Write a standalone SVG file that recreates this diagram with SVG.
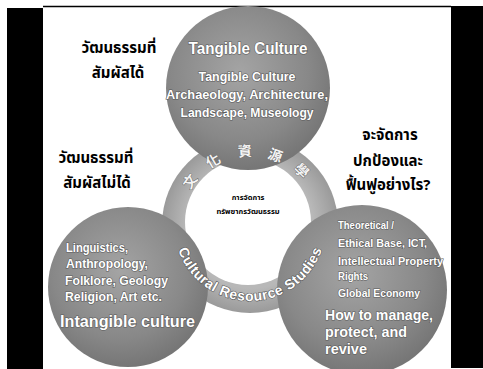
<svg xmlns="http://www.w3.org/2000/svg" width="483" height="369" viewBox="0 0 483 369">
<style>
.wt{fill:#fff;font-family:"Liberation Sans",Arial,sans-serif;font-weight:bold;stroke:#5a5a5a;stroke-width:1.2;paint-order:stroke;}
.th{fill:#000;font-family:"Noto Sans Thai","Loma","Garuda","Tahoma","Liberation Sans",sans-serif;font-weight:bold;text-anchor:middle;}
.cjk{fill:#f4f4f4;font-family:"Noto Sans CJK TC","Noto Sans CJK SC",sans-serif;font-weight:bold;font-size:14px;text-anchor:middle;dominant-baseline:central;stroke:#666;stroke-width:0.8;paint-order:stroke;}
</style>
<defs>
<radialGradient id="gc" cx="45%" cy="40%" r="60%">
<stop offset="0" stop-color="#a4a4a4"/>
<stop offset="0.7" stop-color="#888"/>
<stop offset="1" stop-color="#767676"/>
</radialGradient>
<radialGradient id="gr" cx="50%" cy="50%" r="50%">
<stop offset="0.72" stop-color="#b8b8b8"/>
<stop offset="1" stop-color="#9a9a9a"/>
</radialGradient>
<path id="arcB" d="M 175.15 238.2 A 76 76 0 0 0 324.85 238.2"/>
</defs>
<rect width="483" height="369" fill="#fff"/>
<rect x="7" y="8" width="36" height="361" fill="#000"/>
<rect x="451" y="6" width="32" height="362" fill="#000"/>
<line x1="43" y1="6.5" x2="451" y2="6.5" stroke="#000" stroke-width="1.5"/>

<g id="ring">
<circle cx="250" cy="225" r="88" fill="url(#gr)"/>
<circle cx="248" cy="222" r="63" fill="#fff"/>
</g>

<g id="node-tangible">
<circle cx="248" cy="88" r="82" fill="url(#gc)"/>
<text class="wt" x="248" y="54" font-size="17" text-anchor="middle" textLength="119" lengthAdjust="spacingAndGlyphs">Tangible Culture</text>
<text class="wt" x="247" y="81" font-size="12.5" text-anchor="middle" textLength="97" lengthAdjust="spacingAndGlyphs">Tangible Culture</text>
<text class="wt" x="247" y="99" font-size="12.5" text-anchor="middle" textLength="162" lengthAdjust="spacingAndGlyphs">Archaeology, Architecture,</text>
<text class="wt" x="247" y="117" font-size="12.5" text-anchor="middle" textLength="133" lengthAdjust="spacingAndGlyphs">Landscape, Museology</text>
</g>

<g id="node-intangible">
<circle cx="128" cy="287" r="80" fill="url(#gc)"/>
<text class="wt" x="66" y="252" font-size="12.5" textLength="62" lengthAdjust="spacingAndGlyphs">Linguistics,</text>
<text class="wt" x="66" y="268" font-size="12.5" textLength="82" lengthAdjust="spacingAndGlyphs">Anthropology,</text>
<text class="wt" x="65" y="285" font-size="12.5" textLength="103" lengthAdjust="spacingAndGlyphs">Folklore, Geology</text>
<text class="wt" x="65" y="301" font-size="12.5" textLength="97" lengthAdjust="spacingAndGlyphs">Religion, Art etc.</text>
<text class="wt" x="60" y="327" font-size="17" textLength="135" lengthAdjust="spacingAndGlyphs">Intangible culture</text>
</g>

<g id="node-manage">
<circle cx="362" cy="290" r="85" fill="url(#gc)"/>
<text class="wt" x="338" y="229" font-size="11.5" textLength="56" lengthAdjust="spacingAndGlyphs">Theoretical /</text>
<text class="wt" x="338" y="247" font-size="11.5" textLength="89" lengthAdjust="spacingAndGlyphs">Ethical Base, ICT,</text>
<text class="wt" x="338" y="265" font-size="11.5" textLength="105" lengthAdjust="spacingAndGlyphs">Intellectual Property</text>
<text class="wt" x="338" y="280" font-size="11.5" textLength="30" lengthAdjust="spacingAndGlyphs">Rights</text>
<text class="wt" x="338" y="297" font-size="11.5" textLength="82" lengthAdjust="spacingAndGlyphs">Global Economy</text>
<text class="wt" x="325" y="320" font-size="15" textLength="108" lengthAdjust="spacingAndGlyphs">How to manage,</text>
<text class="wt" x="325" y="337" font-size="15" textLength="82" lengthAdjust="spacingAndGlyphs">protect, and</text>
<text class="wt" x="325" y="354" font-size="15" textLength="42" lengthAdjust="spacingAndGlyphs">revive</text>
</g>

<g id="ring-labels">
<text class="cjk" transform="translate(189.3,180.9) rotate(-54)">文</text>
<text class="cjk" transform="translate(212.5,160) rotate(-30)">化</text>
<text class="cjk" transform="translate(244.8,150.2) rotate(-4)">資</text>
<text class="cjk" transform="translate(275.6,154.5) rotate(20)">源</text>
<text class="cjk" transform="translate(302.1,170.1) rotate(44)">學</text>
<text class="wt" font-size="14" stroke-width="1"><textPath href="#arcB" startOffset="50%" text-anchor="middle" textLength="188">Cultural Resource Studies</textPath></text>
</g>

<g id="node-center">
<text class="th" x="248" y="200" font-size="7.5">การจัดการ</text>
<text class="th" x="248" y="214" font-size="7.5">ทรัพยากรวัฒนธรรม</text>
</g>

<g id="labels">
<text class="th" x="119" y="53" font-size="15">วัฒนธรรมที่</text>
<text class="th" x="118" y="78" font-size="15">สัมผัสได้</text>
<text class="th" x="96" y="163" font-size="15">วัฒนธรรมที่</text>
<text class="th" x="97" y="188" font-size="15">สัมผัสไม่ได้</text>
<text class="th" x="390" y="140" font-size="15">จะจัดการ</text>
<text class="th" x="388" y="166" font-size="15">ปกป้องและ</text>
<text class="th" x="388" y="190" font-size="15">ฟื้นฟูอย่างไร?</text>
</g>
</svg>
